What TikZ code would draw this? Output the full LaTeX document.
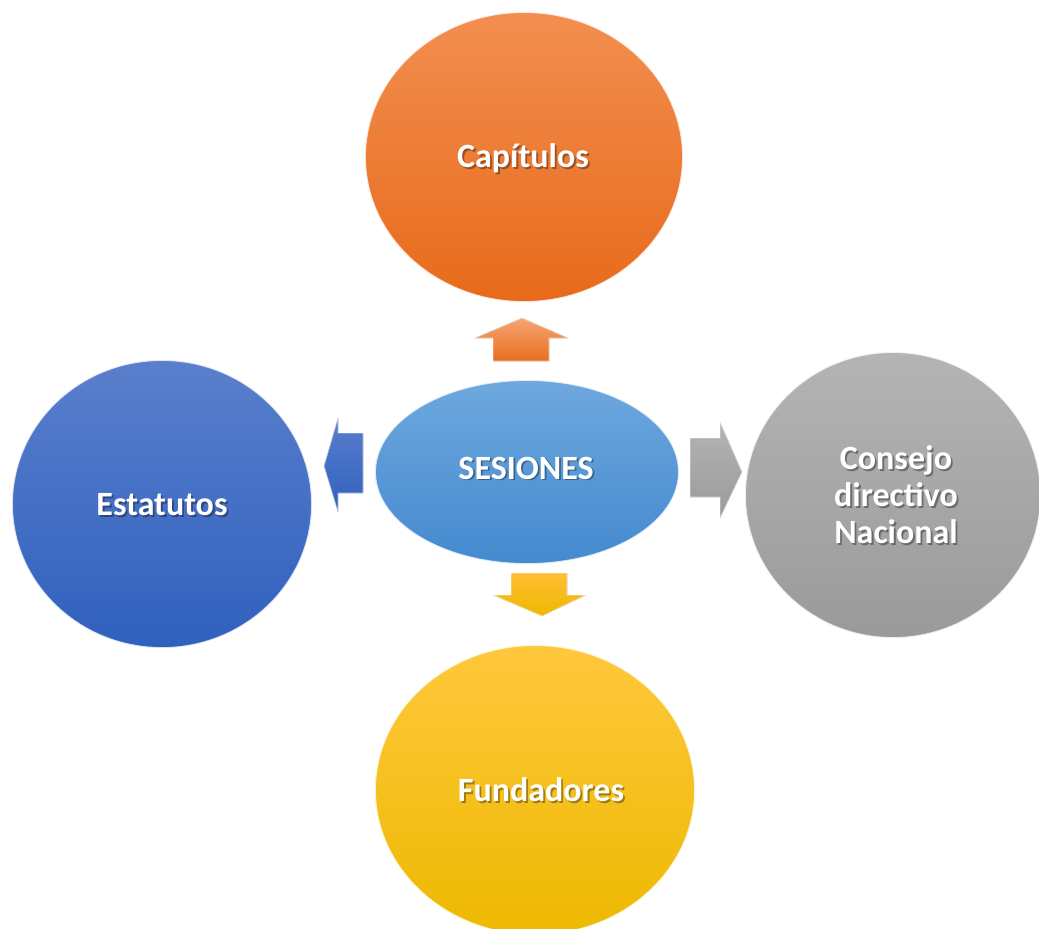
\documentclass[tikz,border=0pt]{standalone}
\usepackage{fontspec}
\setmainfont{Carlito}
\usetikzlibrary{shapes.geometric}
\definecolor{orT}{RGB}{242,142,80}
\definecolor{orB}{RGB}{232,106,26}
\definecolor{sbT}{RGB}{110,168,222}
\definecolor{sbB}{RGB}{68,137,207}
\definecolor{dbT}{RGB}{90,127,204}
\definecolor{dbB}{RGB}{47,96,190}
\definecolor{gyT}{RGB}{180,180,180}
\definecolor{gyB}{RGB}{154,154,154}
\definecolor{yeT}{RGB}{255,200,61}
\definecolor{yeB}{RGB}{237,185,0}
\begin{document}
\begin{tikzpicture}[x=1pt,y=-1pt,
  bubble/.style={ellipse, inner sep=0pt, draw=white, draw opacity=0.8, line width=1.8pt},
  txt/.style={text=white, font=\bfseries\fontsize{34}{37}\selectfont, align=center, inner sep=0pt},
  shtxt/.style={txt, text=black, text opacity=0.35},
  blockarrow/.style={draw=white, draw opacity=0.6, line width=0.8pt}]
\useasboundingbox (0,0) rectangle (1039,929);
% bubbles
\node[bubble, minimum width=318pt, minimum height=290pt, top color=orT, bottom color=orB] (cap) at (524,157) {};
\node[bubble, minimum width=304pt, minimum height=184pt, top color=sbT, bottom color=sbB] (ses) at (527,472) {};
\node[bubble, minimum width=300pt, minimum height=288pt, top color=dbT, bottom color=dbB] (est) at (162,504) {};
\node[bubble, minimum width=296pt, minimum height=286pt, top color=gyT, bottom color=gyB] (con) at (893,495) {};
\node[bubble, minimum width=320pt, minimum height=290pt, top color=yeT, bottom color=yeB] (fun) at (535,790) {};
% texts
\node[shtxt] at (524.8,159.8) {Capítulos};
\node[txt] (capt) at (523,158) {Capítulos};
\node[shtxt] at (527.8,469.8) {SESIONES};
\node[txt] (sest) at (526,468) {SESIONES};
\node[shtxt] at (163.8,506.8) {Estatutos};
\node[txt] (estt) at (162,505) {Estatutos};
\node[shtxt] at (542.8,791.8) {Fundadores};
\node[txt] (funt) at (541,790) {Fundadores};
\node[shtxt] at (897.8,496.8) {Consejo\\directivo\\Nacional};
\node[txt] (cont) at (896,495) {Consejo\\directivo\\Nacional};
% block arrows
\coordinate (upT) at (522,318);
\fill[blockarrow, top color=orT!80!white, bottom color=orB!90!orT]
  (upT) -- (568,338) -- (549,338) -- (549,361) -- (493,361) -- (493,338) -- (475,338) -- cycle;
\coordinate (lfT) at (324,466);
\fill[blockarrow, top color=dbT, bottom color=dbB]
  (lfT) -- (338,418) -- (338,433) -- (363,433) -- (363,493) -- (338,493) -- (338,512) -- cycle;
\coordinate (rtT) at (742,472);
\fill[blockarrow, top color=gyT, bottom color=gyB]
  (690,438) -- (720,438) -- (720,422) -- (rtT) -- (720,518) -- (720,497) -- (690,497) -- cycle;
\coordinate (dnT) at (542,616);
\fill[blockarrow, top color=yeT!85!orange, bottom color=yeB]
  (511,573) -- (567,573) -- (567,595) -- (586,595) -- (dnT) -- (493,595) -- (511,595) -- cycle;
\end{tikzpicture}
\end{document}
